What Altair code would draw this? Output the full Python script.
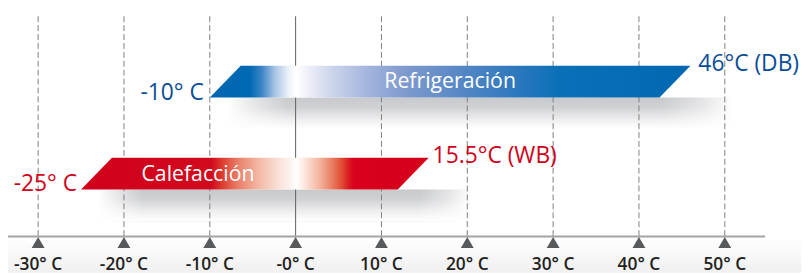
import altair as alt
import pandas as pd

# ---------------- data ----------------
modes = ["Refrigeración", "Calefacción"]
t_min = [-10, -25]
t_max = [46, 15.5]
min_labels = ["-10° C", "-25° C"]
max_labels = ["46°C (DB)", "15.5°C (WB)"]
ticks = [-30, -20, -10, 0, 10, 20, 30, 40, 50]
tick_labels = ["-30° C", "-20° C", "-10° C", "-0° C", "10° C", "20° C", "30° C", "40° C", "50° C"]
axis_span = [-34, 54.7]

# ---------------- layout / style ----------------
W, H = 801, 266
FONT = "Open Sans"
XS = alt.Scale(domain=[-33.51, 58.88], nice=False, zero=False)
YS = alt.Scale(domain=[0, H], reverse=True, nice=False, zero=False)
SLANT = 3.6
AXIS_Y = 229.5
GRID_TOP = 7
rows = {
    "Refrigeración": dict(top=57, bot=89, label_color="#0c4d98", name_dx=0, name_base=79,
                          min_base=92, max_base=62, min_dx=-6, max_dx=8),
    "Calefacción": dict(top=150, bot=182, label_color="#d0021b", name_dx=61, name_base=173,
                        min_base=183, max_base=155, min_dx=-4, max_dx=4),
}
grad_stops = {
    "Refrigeración": [(-10, "#0066b0"), (-5.3, "#0069b4"), (-3.9, "#3f86c6"), (-2.4, "#a9c4e4"),
                      (-0.8, "#eef3fa"), (0.05, "#ffffff"), (1.6, "#eceef8"), (4.2, "#cdd5ec"),
                      (8.2, "#a5b6de"), (12.9, "#7d99cd"), (19.8, "#5386c4"), (26.7, "#2676bc"),
                      (30.7, "#0a70b8"), (46, "#0068b2")],
    "Calefacción": [(-25, "#d0001a"), (-9.8, "#d20a1e"), (-8.5, "#dd3f30"), (-6.7, "#e8806a"),
                    (-4.4, "#f2b6a3"), (-2.1, "#f9dfd5"), (-0.6, "#fdf3ef"), (0.05, "#ffffff"),
                    (1.1, "#fde5dc"), (2.7, "#f4b6a1"), (4.2, "#ea8064"), (5.4, "#e04a32"),
                    (6.2, "#da1a22"), (6.8, "#d8001c"), (15.5, "#d6001c")],
}


def lin_grad(stops, lo, hi):
    return alt.Gradient(
        gradient="linear", x1=0, x2=1, y1=0, y2=0,
        stops=[alt.GradientStop(offset=round((t - lo) / (hi - lo), 4), color=c) for t, c in stops],
    )


def rect_enc(ch):
    return ch.encode(x=alt.X("x:Q", scale=XS, axis=None), x2="x2:Q",
                     y=alt.Y("y:Q", scale=YS, axis=None), y2="y2:Q")


layers = []

# bottom background band
bg = pd.DataFrame({"x": [axis_span[0] - 5], "x2": [axis_span[1] + 10], "y": [AXIS_Y], "y2": [H]})
layers.append(rect_enc(
    alt.Chart(bg).mark_rect(
        color=alt.Gradient(gradient="linear", x1=0, x2=0, y1=0, y2=1,
                           stops=[alt.GradientStop(offset=0, color="#ffffff"),
                                  alt.GradientStop(offset=1, color="#f0f0f0")]))
))

# soft shadows under the bars
SH = "200,201,204"
for m, lo, hi in zip(modes, t_min, t_max):
    r = rows[m]
    sd = pd.DataFrame({"x": [lo + 2.0], "x2": [hi + 5.0], "y": [r["bot"]], "y2": [r["bot"] + 32]})
    layers.append(rect_enc(
        alt.Chart(sd).mark_rect(
            color=alt.Gradient(gradient="linear", x1=0, x2=1, y1=0, y2=0,
                               stops=[alt.GradientStop(offset=0, color=f"rgba({SH},0)"),
                                      alt.GradientStop(offset=0.06, color=f"rgba({SH},0.55)"),
                                      alt.GradientStop(offset=0.12, color=f"rgba({SH},1)"),
                                      alt.GradientStop(offset=0.86, color=f"rgba({SH},1)"),
                                      alt.GradientStop(offset=0.94, color=f"rgba({SH},0.5)"),
                                      alt.GradientStop(offset=1, color=f"rgba({SH},0)")]))
    ))
    layers.append(rect_enc(
        alt.Chart(sd).mark_rect(
            color=alt.Gradient(gradient="linear", x1=0, x2=0, y1=0, y2=1,
                               stops=[alt.GradientStop(offset=0, color="rgba(255,255,255,0)"),
                                      alt.GradientStop(offset=0.3, color="rgba(255,255,255,0.15)"),
                                      alt.GradientStop(offset=0.7, color="rgba(255,255,255,0.7)"),
                                      alt.GradientStop(offset=1, color="rgba(255,255,255,1)")]))
    ))

# grid lines
grid = pd.DataFrame({"t": ticks, "y": GRID_TOP, "y2": AXIS_Y})
layers.append(
    alt.Chart(grid[grid.t != 0]).mark_rule(color="#808080", strokeWidth=1, strokeDash=[6, 3])
    .encode(x=alt.X("t:Q", scale=XS, axis=None), y=alt.Y("y:Q", scale=YS, axis=None), y2="y2:Q")
)
layers.append(
    alt.Chart(grid[grid.t == 0]).mark_rule(color="#5f5f5f", strokeWidth=1)
    .encode(x=alt.X("t:Q", scale=XS, axis=None), y=alt.Y("y:Q", scale=YS, axis=None), y2="y2:Q")
)

# axis line and triangles
ax = pd.DataFrame({"x": [axis_span[0]], "x2": [axis_span[1]], "y": [AXIS_Y]})
layers.append(
    alt.Chart(ax).mark_rule(color="#a3a3a3", strokeWidth=2)
    .encode(x=alt.X("x:Q", scale=XS, axis=None), x2="x2:Q", y=alt.Y("y:Q", scale=YS, axis=None))
)
tri = pd.DataFrame({"t": ticks, "y": AXIS_Y + 6, "label": tick_labels, "yl": 263})
layers.append(
    alt.Chart(tri).mark_point(shape="triangle-up", filled=True, size=169, color="#58595b", opacity=1)
    .encode(x=alt.X("t:Q", scale=XS, axis=None), y=alt.Y("y:Q", scale=YS, axis=None))
)
layers.append(
    alt.Chart(tri).mark_text(font=FONT, fontSize=17.5, fontWeight=600, color="#231f20",
                             align="center", baseline="alphabetic")
    .encode(x=alt.X("t:Q", scale=XS, axis=None), y=alt.Y("yl:Q", scale=YS, axis=None), text="label:N")
)

# bars (parallelograms) and their labels
for m, lo, hi, mn, mx in zip(modes, t_min, t_max, min_labels, max_labels):
    r = rows[m]
    shape = pd.DataFrame({"y": [r["bot"], r["top"]], "x": [lo, lo + SLANT], "x2": [hi - SLANT, hi]})
    layers.append(
        alt.Chart(shape).mark_area(orient="horizontal", color=lin_grad(grad_stops[m], lo, hi))
        .encode(y=alt.Y("y:Q", scale=YS, axis=None), x=alt.X("x:Q", scale=XS, axis=None), x2="x2:Q")
    )
    if r["name_dx"] == 0:
        name_df = pd.DataFrame({"x": [(lo + hi) / 2], "y": [r["name_base"]], "t": [m]})
        align = "center"
    else:
        name_df = pd.DataFrame({"x": [lo], "y": [r["name_base"]], "t": [m]})
        align = "left"
    layers.append(
        alt.Chart(name_df).mark_text(font=FONT, fontSize=21.5, fontWeight=500, color="white",
                                     align=align, baseline="alphabetic", dx=r["name_dx"])
        .encode(x=alt.X("x:Q", scale=XS, axis=None), y=alt.Y("y:Q", scale=YS, axis=None), text="t:N")
    )
    layers.append(
        alt.Chart(pd.DataFrame({"x": [lo], "y": [r["min_base"]], "t": [mn]}))
        .mark_text(font=FONT, fontSize=23, fontWeight=500, color=r["label_color"], align="right",
                   baseline="alphabetic", dx=r["min_dx"])
        .encode(x=alt.X("x:Q", scale=XS, axis=None), y=alt.Y("y:Q", scale=YS, axis=None), text="t:N")
    )
    layers.append(
        alt.Chart(pd.DataFrame({"x": [hi], "y": [r["max_base"]], "t": [mx]}))
        .mark_text(font=FONT, fontSize=23, fontWeight=500, color=r["label_color"], align="left",
                   baseline="alphabetic", dx=r["max_dx"])
        .encode(x=alt.X("x:Q", scale=XS, axis=None), y=alt.Y("y:Q", scale=YS, axis=None), text="t:N")
    )

chart = (
    alt.layer(*layers)
    .properties(width=W, height=H, padding=0, autosize=alt.AutoSizeParams(type="none"),
                background="white")
    .configure_view(stroke=None)
)
chart.save("out.html", embed_options={"renderer": "svg", "actions": False})
